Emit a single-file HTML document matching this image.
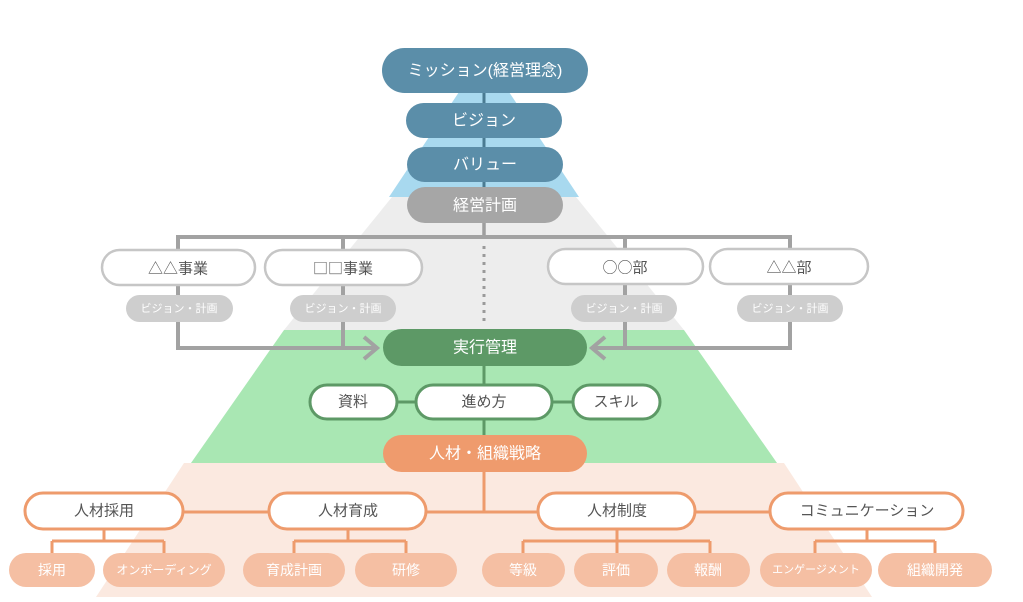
<!DOCTYPE html>
<html><head><meta charset="utf-8">
<style>
html,body{margin:0;padding:0;background:#fff;}
svg{display:block;}
text{font-family:"Liberation Sans","Noto Sans CJK JP",sans-serif;text-anchor:middle;dominant-baseline:central;}
.cjk{font-family:"Noto Sans CJK JP",sans-serif;}
</style></head>
<body>
<svg width="1023" height="602" viewBox="0 0 1023 602" xmlns="http://www.w3.org/2000/svg">
<!-- pyramid bands -->
<polygon points="467,80 501,80 579,197 389,197" fill="#a8d9ef"/>
<polygon points="392,197 576,197 684,330 284,330" fill="#ededed"/>
<polygon points="284,330 684,330 777,463 191,463" fill="#a9e7b3"/>
<polygon points="184,463 784,463 872,597 96,597" fill="#fbe9e0"/>

<!-- top center line -->
<line x1="484" y1="93" x2="484" y2="190" stroke="#4a7b92" stroke-width="3"/>
<line x1="484" y1="220" x2="484" y2="238" stroke="#9e9e9e" stroke-width="3.5"/>

<!-- gray connectors -->
<g stroke="#a2a2a2" stroke-width="4" fill="none">
<line x1="176" y1="237" x2="792" y2="237"/>
<line x1="178" y1="237" x2="178" y2="350"/>
<line x1="343" y1="237" x2="343" y2="350"/>
<line x1="625" y1="237" x2="625" y2="350"/>
<line x1="790" y1="237" x2="790" y2="350"/>
<line x1="176" y1="348" x2="376" y2="348"/>
<line x1="593" y1="348" x2="792" y2="348"/>
<polyline points="364,337 377,348 364,359"/>
<polyline points="605,337 592,348 605,359"/>
</g>
<line x1="484" y1="246" x2="484" y2="326" stroke="#9a9a9a" stroke-width="3" stroke-dasharray="3,5"/>

<!-- top boxes -->
<rect x="382" y="48" width="206" height="45" rx="22.5" fill="#5b8ea9"/>
<text x="485" y="71" font-size="16" fill="#fff">ミッション(経営理念)</text>
<rect x="406" y="103" width="156" height="35" rx="17.5" fill="#5b8ea9"/>
<text x="484" y="121" font-size="16" fill="#fff">ビジョン</text>
<rect x="407" y="147" width="156" height="35" rx="17.5" fill="#5b8ea9"/>
<text x="485" y="165" font-size="16" fill="#fff">バリュー</text>
<rect x="407" y="187" width="156" height="36" rx="18" fill="#a6a6a6"/>
<text x="485" y="206" font-size="16" fill="#fff">経営計画</text>

<!-- business boxes -->
<g fill="#fff" stroke="#c6c6c6" stroke-width="2.5">
<rect x="102" y="250" width="153" height="35" rx="17.5"/>
<rect x="265" y="250" width="157" height="35" rx="17.5"/>
<rect x="548" y="249" width="155" height="35" rx="17.5"/>
<rect x="710" y="249" width="158" height="35" rx="17.5"/>
</g>
<g font-size="15" fill="#555">
<text x="178" y="268" class="cjk">△△事業</text>
<text x="343" y="268" class="cjk">□□事業</text>
<text x="625" y="267" class="cjk">○○部</text>
<text x="789" y="267" class="cjk">△△部</text>
</g>
<g fill="#cecece">
<rect x="126" y="295" width="107" height="27" rx="13.5"/>
<rect x="290" y="295" width="106" height="27" rx="13.5"/>
<rect x="571" y="295" width="106" height="27" rx="13.5"/>
<rect x="737" y="295" width="106" height="27" rx="13.5"/>
</g>
<g font-size="11" fill="#fff">
<text x="179" y="309">ビジョン・計画</text>
<text x="343" y="309">ビジョン・計画</text>
<text x="624" y="309">ビジョン・計画</text>
<text x="790" y="309">ビジョン・計画</text>
</g>

<!-- execution -->
<line x1="484" y1="366" x2="484" y2="436" stroke="#5d9966" stroke-width="3"/>
<line x1="396" y1="402" x2="574" y2="402" stroke="#5d9966" stroke-width="3"/>
<rect x="383" y="329" width="204" height="37" rx="18.5" fill="#5d9966"/>
<text x="485" y="348" font-size="16" fill="#fff">実行管理</text>
<g fill="#fff" stroke="#5d9966" stroke-width="3">
<rect x="310" y="385" width="87" height="34" rx="17"/>
<rect x="416" y="385" width="136" height="34" rx="17"/>
<rect x="573" y="385" width="87" height="34" rx="17"/>
</g>
<g font-size="15" fill="#555">
<text x="353" y="402">資料</text>
<text x="484" y="402">進め方</text>
<text x="616" y="402">スキル</text>
</g>

<!-- HR -->
<g stroke="#ee9b6c" stroke-width="3" fill="none">
<line x1="484" y1="472" x2="484" y2="512"/>
<line x1="183" y1="512" x2="770" y2="512"/>
<line x1="104" y1="529" x2="104" y2="541"/>
<line x1="52" y1="541" x2="164" y2="541"/>
<line x1="52" y1="541" x2="52" y2="555"/>
<line x1="164" y1="541" x2="164" y2="555"/>
<line x1="348" y1="529" x2="348" y2="541"/>
<line x1="294" y1="541" x2="406" y2="541"/>
<line x1="294" y1="541" x2="294" y2="555"/>
<line x1="406" y1="541" x2="406" y2="555"/>
<line x1="617" y1="529" x2="617" y2="555"/>
<line x1="523" y1="541" x2="710" y2="541"/>
<line x1="523" y1="541" x2="523" y2="555"/>
<line x1="710" y1="541" x2="710" y2="555"/>
<line x1="867" y1="529" x2="867" y2="541"/>
<line x1="815" y1="541" x2="935" y2="541"/>
<line x1="815" y1="541" x2="815" y2="555"/>
<line x1="935" y1="541" x2="935" y2="555"/>
</g>
<rect x="383" y="435" width="204" height="37" rx="18.5" fill="#ef9b6d"/>
<text x="485" y="454" font-size="16" fill="#fff">人材・組織戦略</text>

<g fill="#fff" stroke="#ee9b6c" stroke-width="3">
<rect x="25" y="493" width="158" height="36" rx="18"/>
<rect x="269" y="493" width="157" height="36" rx="18"/>
<rect x="538" y="493" width="157" height="36" rx="18"/>
<rect x="770" y="493" width="193" height="36" rx="18"/>
</g>
<g font-size="15" fill="#555">
<text x="104" y="511">人材採用</text>
<text x="348" y="511">人材育成</text>
<text x="617" y="511">人材制度</text>
<text x="867" y="511">コミュニケーション</text>
</g>

<g fill="#f5bfa3">
<rect x="9" y="553" width="86" height="34" rx="17"/>
<rect x="103" y="553" width="122" height="34" rx="17"/>
<rect x="243" y="553" width="102" height="34" rx="17"/>
<rect x="355" y="553" width="102" height="34" rx="17"/>
<rect x="482" y="553" width="83" height="34" rx="17"/>
<rect x="574" y="553" width="84" height="34" rx="17"/>
<rect x="667" y="553" width="83" height="34" rx="17"/>
<rect x="760" y="553" width="112" height="34" rx="17"/>
<rect x="878" y="553" width="114" height="34" rx="17"/>
</g>
<g font-size="14" fill="#fff">
<text x="52" y="570">採用</text>
<text x="164" y="570" font-size="12">オンボーディング</text>
<text x="294" y="570">育成計画</text>
<text x="406" y="570">研修</text>
<text x="523" y="570">等級</text>
<text x="616" y="570">評価</text>
<text x="708" y="570">報酬</text>
<text x="816" y="570" font-size="11">エンゲージメント</text>
<text x="935" y="570">組織開発</text>
</g>
</svg>
</body></html>
